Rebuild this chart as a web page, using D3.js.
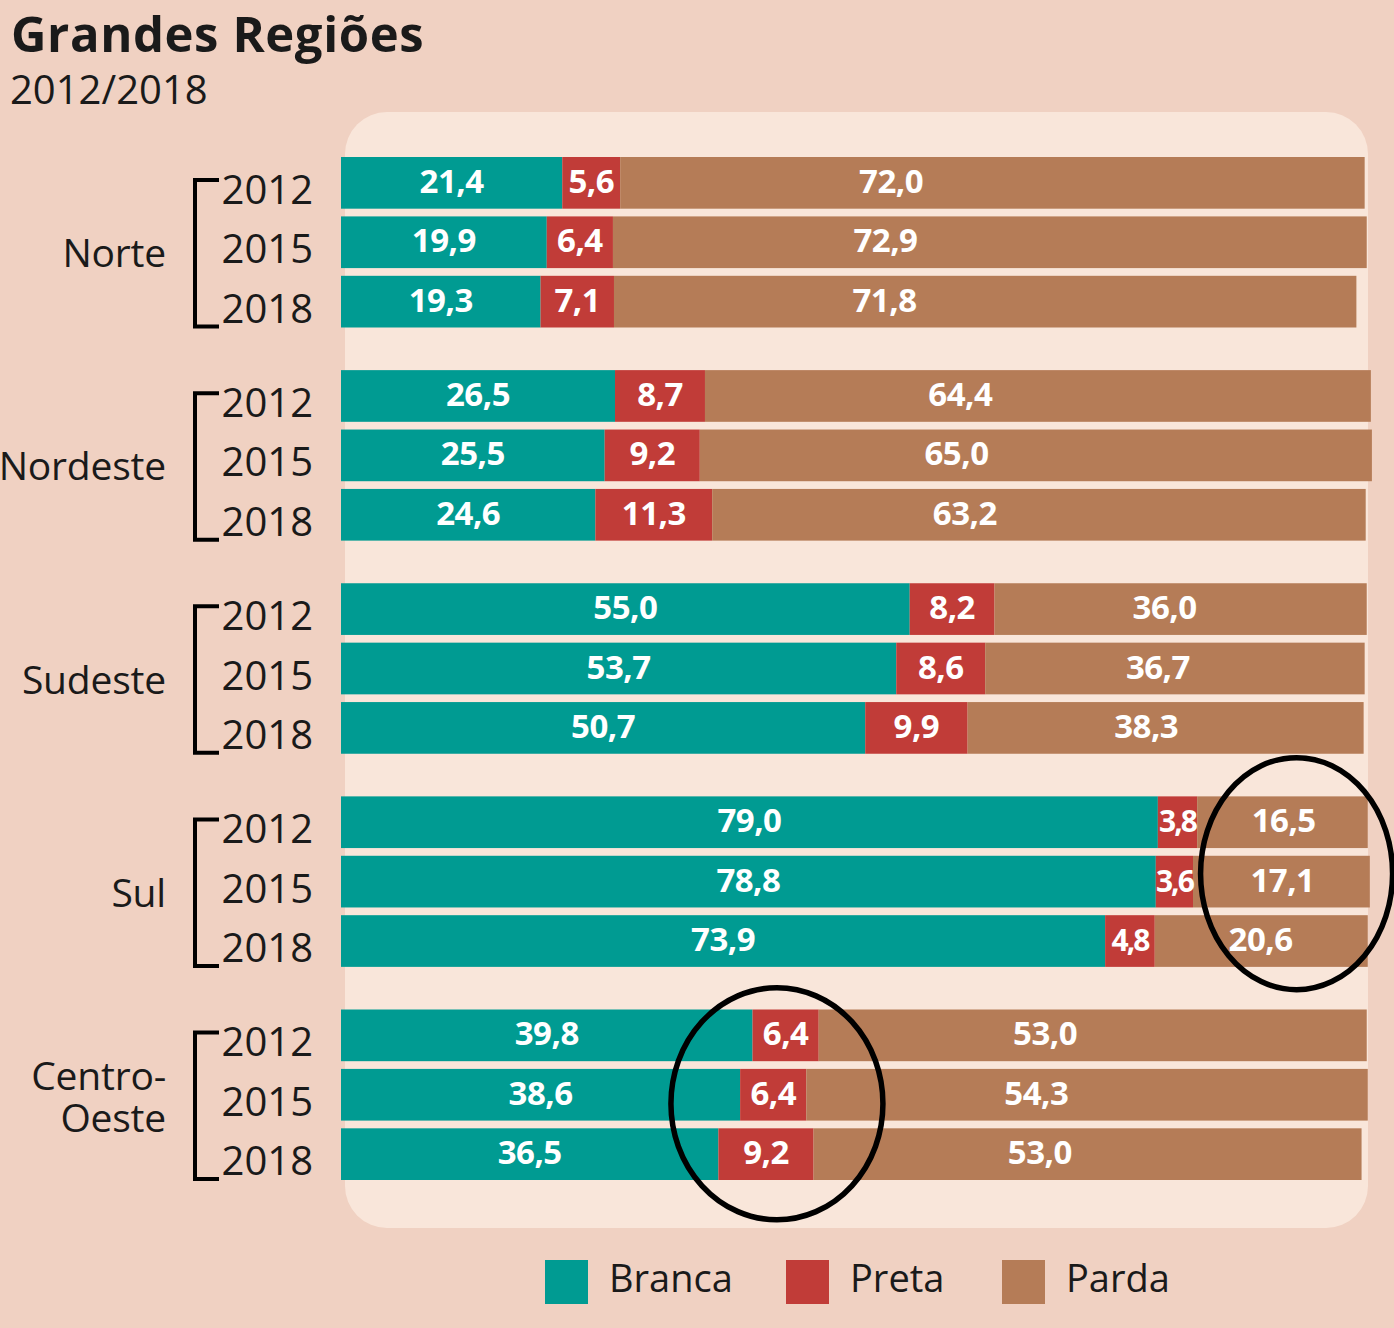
<!DOCTYPE html>
<html>
<head>
<meta charset="utf-8">
<script src="https://cdn.jsdelivr.net/npm/d3@7"></script>
<style>
  html, body { margin: 0; padding: 0; background: #f0d1c2; }
  svg { display: block; font-family: "Open Sans", "Noto Sans", sans-serif; }
</style>
</head>
<body>
<div id="chart"></div>
<script>
// ── Data ────────────────────────────────────────────────────────────────────
const regions = ['Norte', 'Nordeste', 'Sudeste', 'Sul', 'Centro-Oeste'];
const years   = ['2012', '2015', '2018'];
const groups  = ['Branca', 'Preta', 'Parda'];

// one row per year, values in % (Branca, Preta, Parda)
const norte       = [[21.4, 5.6, 72.0], [19.9, 6.4, 72.9], [19.3, 7.1, 71.8]];
const nordeste    = [[26.5, 8.7, 64.4], [25.5, 9.2, 65.0], [24.6, 11.3, 63.2]];
const sudeste     = [[55.0, 8.2, 36.0], [53.7, 8.6, 36.7], [50.7, 9.9, 38.3]];
const sul         = [[79.0, 3.8, 16.5], [78.8, 3.6, 17.1], [73.9, 4.8, 20.6]];
const centroOeste = [[39.8, 6.4, 53.0], [38.6, 6.4, 54.3], [36.5, 9.2, 53.0]];

const regionValues = [norte, nordeste, sudeste, sul, centroOeste];
// highlighted cells: [region, segment] – rings drawn around them
const highlights = [['Sul', 'Parda'], ['Centro-Oeste', 'Preta']];

const colors = { Branca: '#009b92', Preta: '#c13c38', Parda: '#b57c57' };

// ── Dimensions ──────────────────────────────────────────────────────────────
const W = 1394, H = 1328;

const svg = d3.select('#chart').append('svg')
  .attr('width', W)
  .attr('height', H);

svg.append('rect').attr('width', W).attr('height', H).attr('fill', '#f0d1c2');

// light panel behind the bars
svg.append('rect')
  .attr('x', 345).attr('y', 112)
  .attr('width', 1023).attr('height', 1116)
  .attr('rx', 42)
  .attr('fill', '#f9e6da');

// ── Scales ──────────────────────────────────────────────────────────────────
const x = d3.scaleLinear().domain([0, 100]).range([341, 1375]);

const yRegion = d3.scaleBand()
  .domain(regions)
  .range([157, 1180])
  .paddingInner(0.2);

const yYear = d3.scaleBand()
  .domain(years)
  .range([0, yRegion.bandwidth()])
  .paddingInner(0.13);

// flatten into segments
const rows = [];
regions.forEach((r, ri) => {
  years.forEach((yr, yi) => {
    let cum = 0;
    groups.forEach((g, gi) => {
      const v = regionValues[ri][yi][gi];
      rows.push({ region: r, year: yr, group: g, value: v, x0: cum, x1: cum + v });
      cum += v;
    });
  });
});

const rowY = d => yRegion(d.region) + yYear(d.year);

// label position: centred, except Parda labels which drift left in long segments
function labelX(d) {
  const a = x(d.x0), len = x(d.x1) - x(d.x0);
  if (d.group !== 'Parda') return a + len / 2;
  return a + len * (0.55 - 0.00025 * len);
}

// ── Bars ────────────────────────────────────────────────────────────────────
svg.append('g')
  .selectAll('rect')
  .data(rows)
  .join('rect')
  .attr('x', d => x(d.x0))
  .attr('y', d => rowY(d))
  .attr('width', d => x(d.x1) - x(d.x0))
  .attr('height', yYear.bandwidth())
  .attr('fill', d => colors[d.group]);

const fmt = v => v.toFixed(1).replace('.', ',');
svg.append('g')
  .selectAll('text')
  .data(rows)
  .join('text')
  .attr('x', labelX)
  .attr('y', d => rowY(d) + yYear.bandwidth() / 2 + 10)
  .attr('text-anchor', 'middle')
  .attr('fill', '#fff')
  .style('font-size', d => d.value < 5 ? '30px' : '33px')
  .style('font-weight', 700)
  .style('letter-spacing', d => d.value < 5 ? '-2px' : '-0.5px')
  .text(d => fmt(d.value));

// ── Year labels and brackets ────────────────────────────────────────────────
const yearG = svg.append('g');
regions.forEach(r => {
  years.forEach(yr => {
    yearG.append('text')
      .attr('x', 313)
      .attr('y', yRegion(r) + yYear(yr) + yYear.bandwidth() / 2 + 21)
      .attr('text-anchor', 'end')
      .attr('fill', '#1a1a1a')
      .style('font-size', '40px')
      .text(yr);
  });

  const top = yRegion(r) + 23;
  const bot = yRegion(r) + yRegion.bandwidth() - 1;
  yearG.append('path')
    .attr('d', `M219,${top} H195 V${bot} H219`)
    .attr('fill', 'none')
    .attr('stroke', '#000')
    .attr('stroke-width', 4);
});

// region labels (Centro-Oeste split on two lines)
const regionG = svg.append('g');
regions.forEach(r => {
  const cy = yRegion(r) + yRegion.bandwidth() / 2;
  const lines = r === 'Centro-Oeste' ? ['Centro-', 'Oeste'] : [r];
  lines.forEach((l, i) => {
    regionG.append('text')
      .attr('x', 166)
      .attr('y', lines.length > 1 ? cy + 16 + (i - 0.5) * 42 : cy + 25)
      .attr('text-anchor', 'end')
      .attr('fill', '#1a1a1a')
      .style('font-size', '39px')
      .style('letter-spacing', '-0.2px')
      .text(l);
  });
});

// ── Highlight rings ─────────────────────────────────────────────────────────
highlights.forEach(([r, g]) => {
  const segs = rows.filter(d => d.region === r && d.group === g);
  const cx = d3.mean(segs, labelX) + (g === 'Parda' ? 21 : 2);
  const cy = yRegion(r) + yRegion.bandwidth() / 2 + (g === 'Parda' ? -8 : 9);
  svg.append('ellipse')
    .attr('cx', cx)
    .attr('cy', cy)
    .attr('rx', g === 'Parda' ? 96 : 106)
    .attr('ry', 116)
    .attr('fill', 'none')
    .attr('stroke', '#000')
    .attr('stroke-width', 5.5);
});

// ── Title ───────────────────────────────────────────────────────────────────
svg.append('text')
  .attr('x', 11).attr('y', 52)
  .attr('fill', '#1a1a1a')
  .style('font-size', '49px')
  .style('font-weight', 700)
  .style('letter-spacing', '0.6px')
  .text('Grandes Regiões');

svg.append('text')
  .attr('x', 10).attr('y', 104)
  .attr('fill', '#1a1a1a')
  .style('font-size', '40px')
  .text('2012/2018');

// ── Legend ──────────────────────────────────────────────────────────────────
const legendX = [545, 786, 1002];
const legend = svg.append('g')
  .selectAll('g')
  .data(groups)
  .join('g')
  .attr('transform', (d, i) => `translate(${legendX[i]},1260)`);

legend.append('rect')
  .attr('width', 43).attr('height', 44)
  .attr('fill', d => colors[d]);

legend.append('text')
  .attr('x', 64).attr('y', 32)
  .attr('fill', '#1a1a1a')
  .style('font-size', '38px')
  .text(d => d);
</script>
</body>
</html>
